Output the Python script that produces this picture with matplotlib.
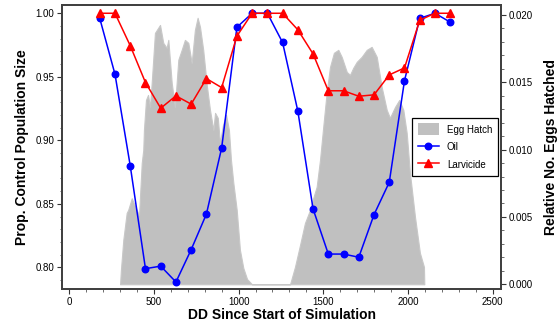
import numpy as np
import matplotlib
matplotlib.use('Agg')
import matplotlib.pyplot as plt
from matplotlib.ticker import MultipleLocator
from matplotlib.patches import Patch
from matplotlib.lines import Line2D

plt.rcParams['font.family'] = ['Liberation Sans', 'DejaVu Sans']

# treatment timing (degree days) and response
dd = [180, 270, 360, 450, 540, 630, 720, 810, 900, 990, 1080, 1170,
      1260, 1350, 1440, 1530, 1620, 1710, 1800, 1890, 1980, 2070, 2160, 2250]
oil = [0.996, 0.952, 0.880, 0.799, 0.801, 0.7885, 0.814, 0.842, 0.894, 0.989, 1.000, 1.000,
       0.977, 0.923, 0.846, 0.8105, 0.8105, 0.808, 0.8415, 0.867, 0.947, 0.996, 1.000, 0.993]
larvicide = [1.000, 1.000, 0.9745, 0.9455, 0.9253, 0.935, 0.9285, 0.9486, 0.9415, 0.982, 1.000, 1.000,
             1.000, 0.987, 0.968, 0.939, 0.939, 0.9347, 0.9358, 0.9515, 0.957, 0.9945, 1.000, 1.000]

# egg hatch curve
hatch_dd = [300, 305, 319, 339, 348, 369, 398, 412, 428, 437, 441, 453, 465, 477, 488,
            506, 536, 555, 575, 585, 605, 624, 644, 664, 683, 703, 723, 742, 758, 772,
            791, 812, 831, 851, 861, 877, 890, 908, 926, 943, 955, 969, 989, 1008, 1028,
            1050, 1079, 1304, 1333, 1363, 1392, 1422, 1441, 1461, 1481, 1500, 1520, 1540,
            1563, 1589, 1609, 1639, 1658, 1677, 1698, 1727, 1757, 1786, 1816, 1845, 1875,
            1894, 1924, 1949, 1973, 1993, 2012, 2042, 2071, 2095, 2097]
hatch = [0.0, 1.06, 3.29, 5.30, 5.52, 6.39, 5.52, 5.15, 9.01, 9.98, 11.46, 13.69, 14.06, 13.17, 15.18,
         18.67, 19.26, 17.93, 17.56, 18.15, 14.96, 13.17, 16.67, 17.41, 18.15, 17.93, 16.44, 18.89, 19.79, 19.12,
         17.41, 14.81, 12.95, 11.46, 12.73, 12.36, 10.50, 11.84, 12.58, 11.46, 9.24, 7.53, 5.52, 2.55, 1.21,
         0.39, 0.0, 0.0, 1.29, 2.92, 4.55, 5.52, 6.41, 7.23, 9.24, 11.69, 14.21, 16.14,
         17.19, 17.41, 16.89, 15.77, 15.55, 16.07, 16.52, 16.89, 17.41, 17.63, 16.89, 14.66, 12.95,
         12.36, 13.17, 13.69, 12.95, 11.24, 8.27, 5.00, 2.33, 1.29, 0.0]
hatch = np.array(hatch) / 1000.0

fig = plt.figure(figsize=(5.57, 3.26), dpi=100)
ax = fig.add_axes([62/557, 1 - 289/326, (501 - 62)/557, (289 - 5)/326])
ax2 = ax.twinx()

# gray hatch area behind the lines
ax2.fill_between(hatch_dd, 0, hatch, facecolor='#c0c0c0', edgecolor='#c8c8c8', lw=0.8)
ax.set_zorder(ax2.get_zorder() + 1)
ax.patch.set_visible(False)

ax.plot(dd, oil, '-o', color='#0000ff', lw=1.1, ms=4.7)
ax.plot(dd, larvicide, '-^', color='#ff0000', lw=1.1, ms=5.7)

ax.set_xlim(-43, 2550)
ax.set_ylim(0.783, 1.0065)
ax2.set_ylim(-0.00035, 0.02074)

ax.xaxis.set_major_locator(MultipleLocator(500))
ax.xaxis.set_minor_locator(MultipleLocator(100))
ax.yaxis.set_major_locator(MultipleLocator(0.05))
ax.yaxis.set_minor_locator(MultipleLocator(0.01))
ax.yaxis.set_major_formatter(matplotlib.ticker.FormatStrFormatter('%.2f'))
ax2.yaxis.set_major_locator(MultipleLocator(0.005))
ax2.yaxis.set_minor_locator(MultipleLocator(0.001))
ax2.yaxis.set_major_formatter(matplotlib.ticker.FormatStrFormatter('%.3f'))

for a in (ax, ax2):
    a.tick_params(which='major', length=3.5, width=0.8, labelsize=7, pad=2, color='#333333')
    a.tick_params(which='minor', length=1.8, width=0.6, color='#555555')
    for s in a.spines.values():
        s.set_linewidth(1.3)
        s.set_color('#404040')

ax.set_xlabel('DD Since Start of Simulation', fontsize=10, fontweight='bold', labelpad=1)
ax.set_ylabel('Prop. Control Population Size', fontsize=10, fontweight='bold', labelpad=5)
ax2.set_ylabel('Relative No. Eggs Hatched', fontsize=10, fontweight='bold', labelpad=8)

handles = [Patch(facecolor='#c0c0c0', edgecolor='none', label='Egg Hatch'),
           Line2D([], [], color='#0000ff', marker='o', lw=1.1, ms=4.7, label='Oil'),
           Line2D([], [], color='#ff0000', marker='^', lw=1.1, ms=5.7, label='Larvicide')]
leg = ax.legend(handles=handles, loc='center right', fontsize=7, fancybox=False,
                edgecolor='black', framealpha=1, handlelength=2.2, handleheight=1.5,
                labelspacing=0.6, borderaxespad=0.35, handletextpad=0.8, borderpad=0.55)
leg.get_frame().set_linewidth(0.9)

fig.savefig('out.png', dpi=100)
